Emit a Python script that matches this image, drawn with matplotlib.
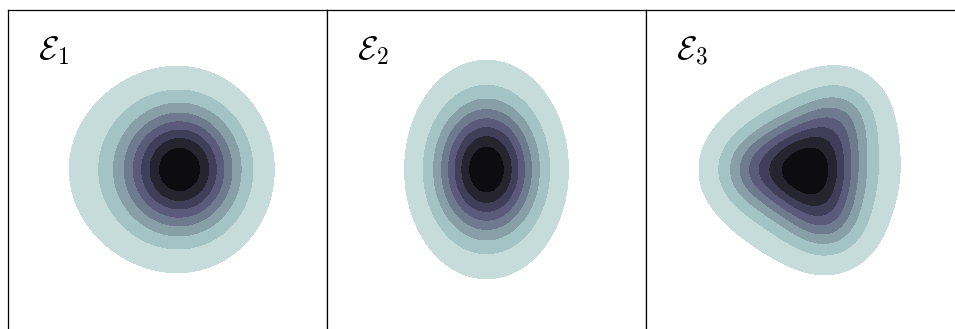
import matplotlib.pyplot as plt
import numpy as np

plt.rcParams['mathtext.fontset'] = 'cm'

# gaussian mixture components for each panel: weight, mean x, mean y, sigma x, sigma y
labels = [r'$\mathcal{E}_1$', r'$\mathcal{E}_2$', r'$\mathcal{E}_3$']
weights = [[0.8, 0.2], [1.0], [1.0, 0.11, 0.11, 0.11]]
mean_x = [[0.38, -0.5], [0.0], [0.05, -1.45, 0.9, 0.6]]
mean_y = [[0.0, 0.0], [0.0], [0.0, 0.0, 1.38, -1.4]]
sig_x = [[0.93, 1.15], [0.84], [1.0, 0.66, 0.66, 0.66]]
sig_y = [[1.02, 1.15], [1.12], [1.0, 0.66, 0.66, 0.66]]

band_colors = ['#c6dcdb', '#a3c3c5', '#889fa8', '#6e7b8e',
               '#5b5a7b', '#403e58', '#26252f', '#0d0c10']
isoprop = np.linspace(0.05, 1, 9)

g = np.linspace(-4, 4, 300)
X, Y = np.meshgrid(g, g)

fig = plt.figure(figsize=(9.55, 3.29), dpi=100)
pw = 319 / 955
for i in range(3):
    ax = fig.add_axes([(8 + 319 * i) / 955, -0.02, pw, 319 / 329 + 0.02])
    Z = np.zeros_like(X)
    for w, mx, my, sx, sy in zip(weights[i], mean_x[i], mean_y[i], sig_x[i], sig_y[i]):
        Z += w / (sx * sy) * np.exp(-0.5 * (((X - mx) / sx) ** 2 + ((Y - my) / sy) ** 2))
    # iso-proportion levels (like seaborn kdeplot)
    vals = np.sort(Z.ravel())[::-1]
    cum = np.cumsum(vals) / vals.sum()
    idx = np.searchsorted(cum, 1 - isoprop)
    levels = np.take(vals, idx, mode='clip')
    ax.contourf(X, Y, Z, levels=levels, colors=band_colors)
    ax.set_xlim(-4, 4)
    ax.set_ylim(-4 - 8 * 0.02 * 329 / 319, 4)
    ax.set_xticks([])
    ax.set_yticks([])
    for s in ax.spines.values():
        s.set_linewidth(0.9)
    ax.text(0.095, 0.85, labels[i], transform=ax.transAxes, fontsize=24)

fig.savefig('out.png', dpi=100)
